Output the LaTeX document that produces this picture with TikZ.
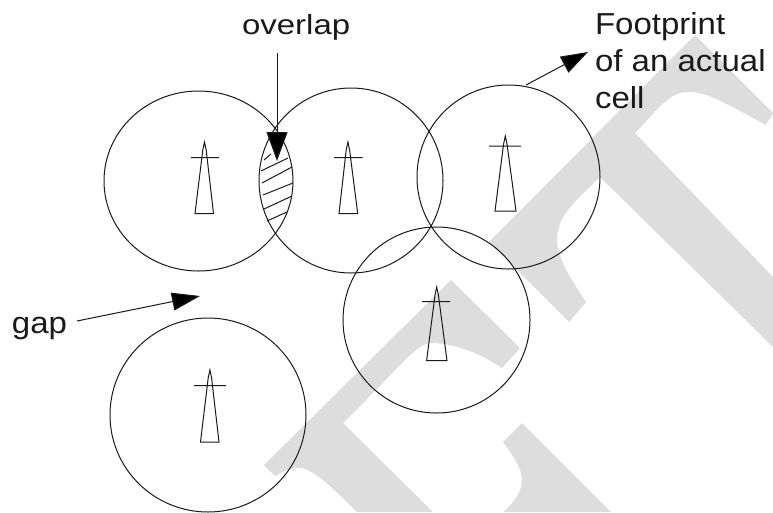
\documentclass[tikz,border=0pt]{standalone}
\usepackage{fontspec}
\setmainfont{Liberation Sans}
\usetikzlibrary{shapes.geometric,arrows.meta}
\definecolor{wm}{HTML}{DDDDDD}
\definecolor{ink}{HTML}{1A1A1A}
\tikzset{
  cell/.style={ellipse,draw=ink,line width=1pt,inner sep=0pt,outer sep=0pt},
  mast/.style={draw=ink,line width=1pt,line join=miter},
  hatchline/.style={draw=ink,line width=1pt},
  pointer/.style={draw=ink,line width=1pt},
  wmark/.style={fill=wm,draw=none},
  lbl/.style={anchor=base west,inner sep=0pt,outer sep=0pt,text=ink,transform shape,font=\fontsize{33}{39.7}\selectfont}
}
\begin{document}
\begin{tikzpicture}[x=1pt,y=-1pt]
\useasboundingbox (0,0) rectangle (773,512);
\fill[white] (0,0) rectangle (773,512);
% watermark
\begin{scope}
\clip (0,0) rectangle (773,512);
\fill[wmark] (489,242) -- (695,35) -- (773,113) -- (766,125)
  .. controls (720,100) and (700,88) .. (680,93)
  .. controls (665,97) and (650,118) .. (635,133)
  -- (773,277) -- (773,347) -- (600,177)
  .. controls (575,202) and (557,215) .. (557,240)
  .. controls (557,260) and (575,285) .. (586,302)
  -- (569,322) -- cycle;
\fill[wmark] (264,465) -- (451,280) -- (520,348) -- (502,368)
  .. controls (475,350) and (450,343) .. (430,343)
  .. controls (415,345) and (405,362) .. (343,423)
  -- (433,512) -- (357,512)
  .. controls (330,485) and (310,466) .. (297,468)
  .. controls (290,468) and (283,472) .. (275,476) -- cycle;
\fill[wmark] (522,423) -- (611,512) -- (503,512)
  .. controls (515,502) and (522,490) .. (522,480)
  .. controls (522,470) and (515,458) .. (503,442) -- cycle;
\end{scope}
% cells
\node[cell,minimum width=189pt,minimum height=180pt] (c1) at (198.5,181) {};
\node[cell,minimum width=184pt,minimum height=185pt] (c2) at (351,180.5) {};
\node[cell,minimum width=183pt,minimum height=184pt] (c3) at (508.5,177) {};
\node[cell,minimum width=187pt,minimum height=186pt] (c4) at (436.5,320) {};
\node[cell,minimum width=196pt,minimum height=194pt] (c5) at (208,415) {};
% masts
\draw[mast] (195,213.5) -- (213.5,213.5) -- (206.2,150) -- (204.5,142) -- (202.8,150) -- cycle (191,157.5) -- (219,157.5);
\draw[mast] (339,213.5) -- (357.7,213.5) -- (349.6,150) -- (347.9,142) -- (346.2,150) -- cycle (334,157.5) -- (362.7,157.5);
\draw[mast] (495,211) -- (516,211) -- (507,144) -- (505.3,136) -- (503.6,144) -- cycle (489,146) -- (521,146);
\draw[mast] (426.6,360.7) -- (447,360.7) -- (438.4,295) -- (436.7,287) -- (435,295) -- cycle (422,301.7) -- (450,301.7);
\draw[mast] (200.5,442) -- (219,442) -- (211.6,378) -- (209.9,370) -- (208.2,378) -- cycle (194,385.7) -- (226,385.7);
% hatching
\draw[hatchline] (264,160) -- (271,154);
\draw[hatchline] (261,171) -- (288,158);
\draw[hatchline] (262,183) -- (292,167);
\draw[hatchline] (263,195) -- (293,183);
\draw[hatchline] (264,209) -- (292,196);
\draw[hatchline] (267,221) -- (287,212);
% labels
\node[lbl,yscale=.84] (ov) at (242,34) {overlap};
\node[lbl,align=left,yscale=.92] (fp) at (595,108) {Footprint\\of an actual\\cell};
\node[lbl,yscale=.92] (gp) at (12,333) {gap};
% pointers
\coordinate (ovs) at (277,53);
\coordinate (ovt) at (277,161);
\coordinate (fps) at (526,85);
\coordinate (fpt) at (588,52);
\coordinate (gps) at (77,321);
\coordinate (gpt) at (200,296);
\draw[pointer,-{Triangle[length=29pt,width=21pt,fill=black]}] (ovs) -- (ovt);
\draw[pointer,-{Triangle[length=27pt,width=18pt,fill=black]}] (fps) -- (fpt);
\draw[pointer,-{Triangle[length=28pt,width=18pt,fill=black]}] (gps) -- (gpt);
\end{tikzpicture}
\end{document}
